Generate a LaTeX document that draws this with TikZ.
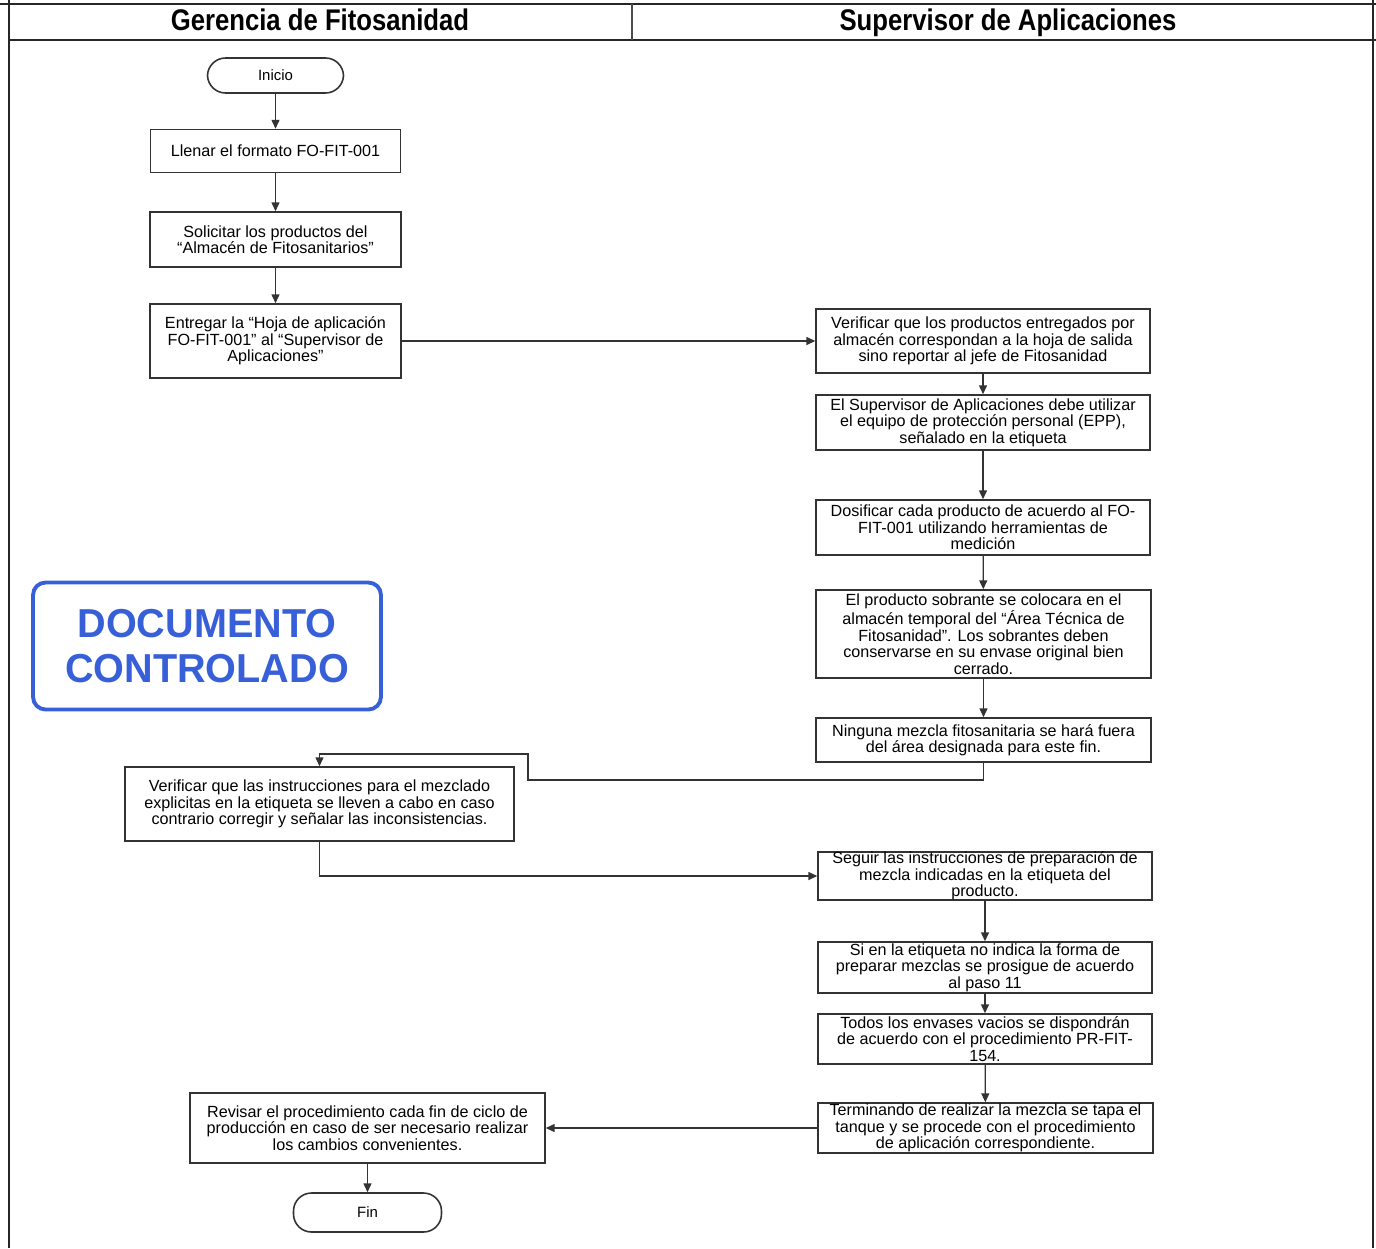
\documentclass[tikz,border=0pt]{standalone}
\usepackage{fontspec}
\setmainfont{Liberation Sans}
\usetikzlibrary{arrows.meta}

\definecolor{sello}{RGB}{55,95,215}

\begin{document}
\begin{tikzpicture}[x=0.02cm,y=-0.02cm,
  paso/.style={rectangle,draw=black!80,line width=0.9pt,fill=white,align=center,
    inner xsep=2pt,inner ysep=1pt,font=\fontsize{9.2}{9.4}\selectfont},
  terminal/.style={rectangle,rounded corners=3.6mm,draw=black!80,line width=0.9pt,
    font=\fontsize{8.5}{9}\selectfont},
  flujo/.style={draw=black!80,line width=0.7pt,-{Triangle[length=5pt,width=4.5pt]}},
  carril/.style={anchor=base,font=\bfseries\fontsize{17}{19}\selectfont}]

\useasboundingbox (0,0) rectangle (1376,1248);

% carriles
\draw[line width=1.6pt,black!85] (0,4) -- (1376,4);
\draw[line width=1.3pt,black!85] (9,40) -- (1376,40);
\draw[line width=1pt,black!85] (9,0) -- (9,1248);
\draw[line width=1pt,black!85] (1373,0) -- (1373,1248);
\draw[line width=0.6pt,black!70] (632,4) -- (632,40);
\node[carril] (gerencia) at (320,30) {\scalebox{0.86}[1]{Gerencia de Fitosanidad}};
\node[carril] (supervisor) at (1008,30) {\scalebox{0.86}[1]{Supervisor de Aplicaciones}};

% sello
\node[rectangle,rounded corners=2.5mm,draw=sello,line width=2.2pt,text=sello,
  minimum width=6.96cm,minimum height=2.54cm,align=center,
  font=\bfseries\fontsize{23}{25.5}\selectfont] (sellodoc) at (207,646)
  {\scalebox{0.98}[1]{DOCUMENTO}\\\scalebox{0.98}[1]{CONTROLADO}};

\node[terminal,minimum width=2.72cm,minimum height=0.7cm] (inicio) at (275.5,75.5) {Inicio};
\node[paso,minimum width=5cm,minimum height=0.86cm] (llenar) at (275.5,151) {Llenar el formato FO-FIT-001};
\node[paso,minimum width=5.02cm,minimum height=1.1cm] (solicitar) at (275.5,239.5) {Solicitar los productos del\\“Almacén de Fitosanitarios”};
\node[paso,minimum width=5.02cm,minimum height=1.48cm] (entregar) at (275.5,341) {Entregar la “Hoja de aplicación\\FO-FIT-001” al “Supervisor de\\Aplicaciones”};
\node[paso,minimum width=6.68cm,minimum height=1.28cm] (verificar) at (983,341) {Verificar que los productos entregados por\\almacén correspondan a la hoja de salida\\sino reportar al jefe de Fitosanidad};
\node[paso,minimum width=6.68cm,minimum height=1.1cm] (equipo) at (983,422.5) {El Supervisor de Aplicaciones debe utilizar\\el equipo de protección personal (EPP),\\señalado en la etiqueta};
\node[paso,minimum width=6.68cm,minimum height=1.1cm] (dosificar) at (983,527.5) {Dosificar cada producto de acuerdo al FO-\\FIT-001 utilizando herramientas de\\medición};
\node[paso,minimum width=6.7cm,minimum height=1.76cm] (sobrante) at (983.5,634) {El producto sobrante se colocara en el\\almacén temporal del “Área Técnica de\\Fitosanidad”. Los sobrantes deben\\conservarse en su envase original bien\\cerrado.};
\node[paso,minimum width=6.7cm,minimum height=0.88cm] (ninguna) at (983.5,740) {Ninguna mezcla fitosanitaria se hará fuera\\del área designada para este fin.};
\node[paso,minimum width=7.78cm,minimum height=1.48cm] (instrucciones) at (319.5,804) {Verificar que las instrucciones para el mezclado\\explicitas en la etiqueta se lleven a cabo en caso\\contrario corregir y señalar las inconsistencias.};
\node[paso,minimum width=6.68cm,minimum height=0.96cm,inner ysep=0pt] (seguir) at (985,876) {Seguir las instrucciones de preparación de\\mezcla indicadas en la etiqueta del\\producto.};
\node[paso,minimum width=6.68cm,minimum height=1.02cm,inner ysep=0pt] (etiqueta) at (985,967.5) {Si en la etiqueta no indica la forma de\\preparar mezclas se prosigue de acuerdo\\al paso 11};
\node[paso,minimum width=6.68cm,minimum height=1cm,inner ysep=0pt] (envases) at (985,1039) {Todos los envases vacios se dispondrán\\de acuerdo con el procedimiento PR-FIT-\\154.};
\node[paso,minimum width=6.7cm,minimum height=1cm,inner ysep=0pt] (terminando) at (985.5,1128) {Terminando de realizar la mezcla se tapa el\\tanque y se procede con el procedimiento\\de aplicación correspondiente.};
\node[paso,minimum width=7.1cm,minimum height=1.4cm] (revisar) at (367.5,1128) {Revisar el procedimiento cada fin de ciclo de\\producción en caso de ser necesario realizar\\los cambios convenientes.};
\node[terminal,minimum width=2.96cm,minimum height=0.78cm] (fin) at (367.5,1212.5) {Fin};

\coordinate (codoa) at (528,780);
\coordinate (codob) at (528,754);

\draw[flujo] (inicio) -- (llenar);
\draw[flujo] (llenar) -- (solicitar);
\draw[flujo] (solicitar) -- (entregar);
\draw[flujo] (entregar) -- (verificar);
\draw[flujo] (verificar) -- (equipo);
\draw[flujo] (equipo) -- (dosificar);
\draw[flujo] (dosificar) -- (sobrante);
\draw[flujo] (sobrante) -- (ninguna);
\draw[flujo] (ninguna.south) |- (codoa) -- (codob) -| (instrucciones.north);
\draw[flujo] (instrucciones.south) |- (seguir.west);
\draw[flujo] (seguir) -- (etiqueta);
\draw[flujo] (etiqueta) -- (envases);
\draw[flujo] (envases) -- (terminando);
\draw[flujo] (terminando) -- (revisar);
\draw[flujo] (revisar) -- (fin);
\end{tikzpicture}
\end{document}
